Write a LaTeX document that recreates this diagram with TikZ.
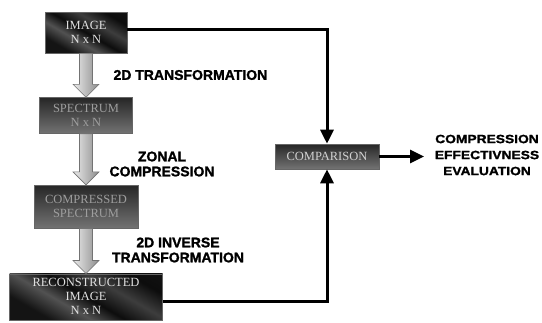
\documentclass[tikz,border=0pt]{standalone}
\usepackage{fontspec}
\setmainfont{Liberation Serif}
\newfontfamily\labelfont[FakeBold=1.4]{Liberation Sans}
\usetikzlibrary{positioning, arrows.meta, calc}

% glossy black used for the input/output boxes
\pgfdeclarehorizontalshading{glossy}{100bp}{color(0bp)=(black!92); color(28bp)=(black!92); color(40bp)=(black!68); color(50bp)=(black!95); color(62bp)=(black!76); color(74bp)=(black!95); color(100bp)=(black!90)}

\tikzset{
	box/.style={draw=black!60, line width=0.6pt, align=center, inner sep=2pt, font=\fontsize{12.5}{14}\selectfont},
	darkbox/.style={box, shading=glossy, shading angle=60, text=black!12},
	greybox/.style={box, top color=black!85, bottom color=black!55, text=black!38},
	fatarrow/.style={draw=black!55, line width=0.6pt, left color=black!8, right color=black!45},
	link/.style={line width=3pt, -{Triangle[length=14pt,width=13pt]}},
	lbl/.style={font=\labelfont\bfseries\fontsize{14}{15}\selectfont, align=center}
}

% hollow down arrow from one box to the next
\newcommand{\fatdown}[2]{
	\path[fatarrow] let \p1=(#1.south), \p2=(#2.north) in
	(\x1-6.5pt,\y1) -- (\x1+6.5pt,\y1) -- (\x1+6.5pt,\y2+13pt) -- (\x1+13pt,\y2+13pt)
	-- (\x1,\y2) -- (\x1-13pt,\y2+13pt) -- (\x1-6.5pt,\y2+13pt) -- cycle;
}

\begin{document}
\begin{tikzpicture}[x=1pt, y=1pt]
	\useasboundingbox (0,0) rectangle (542,-322);

	\node[darkbox, minimum width=82pt, minimum height=41pt] (img) at (86,-32.5) {IMAGE\\N x N};
	\node[greybox, minimum width=93pt, minimum height=36pt, below=44pt of img] (spec) {SPECTRUM\\N x N};
	\node[greybox, minimum width=104pt, minimum height=43pt, below=51pt of spec] (cspec) {COMPRESSED\\SPECTRUM};
	\node[darkbox, minimum width=153pt, minimum height=46pt, below=45pt of cspec] (rec) {RECONSTRUCTED\\IMAGE\\N x N};
	\node[greybox, minimum width=104pt, minimum height=25pt, text=black!18] (cmp) at (327,-156.5) {COMPARISON};

	\fatdown{img}{spec}
	\fatdown{spec}{cspec}
	\fatdown{cspec}{rec}

	\node[lbl, anchor=west] (t1) at (110,-75) {2D TRANSFORMATION};
	\node[lbl] (t2) at (162,-164) {ZONAL\\COMPRESSION};
	\node[lbl] (t3) at (178,-250) {2D INVERSE\\TRANSFORMATION};

	\draw[link] ([yshift=3pt]img.east) -| (cmp.north);
	\draw[link] ([yshift=-5pt]rec.east) -| (cmp.south);

	\coordinate (out) at (424,-156.5);
	\draw[link] (cmp.east) -- (out);
	\node[lbl, font=\labelfont\bfseries\fontsize{12}{16}\selectfont\addfontfeature{FakeStretch=1.15}] (eval) at (487,-155) {COMPRESSION\\EFFECTIVNESS\\EVALUATION};
\end{tikzpicture}
\end{document}
